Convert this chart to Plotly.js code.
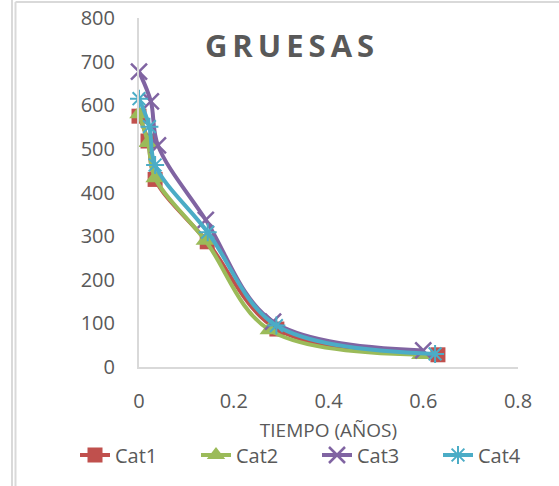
<!DOCTYPE html>
<html>
<head>
<meta charset="utf-8">
<script src="https://cdn.plot.ly/plotly-3.0.1.min.js"></script>
<style>
  html, body { margin: 0; padding: 0; background: #fff; }
  #chart { width: 559px; height: 486px; }
  .gtitle { letter-spacing: 5px; }
</style>
</head>
<body>
<div id="chart"></div>
<script>
// Time in years and measured values for each category
const seriesNames = ['Cat1', 'Cat2', 'Cat3', 'Cat4'];
const cat1X = [0, 0.019, 0.034, 0.144, 0.291, 0.631];
const cat1Y = [575, 518, 430, 287, 87, 28];
const cat2X = [0, 0.019, 0.034, 0.14, 0.275, 0.595];
const cat2Y = [580, 514, 433, 290, 85, 28];
const cat3X = [0, 0.025, 0.04, 0.141, 0.283, 0.6];
const cat3Y = [677, 609, 508, 337, 104, 38];
const cat4X = [0, 0.022, 0.034, 0.145, 0.29, 0.625];
const cat4Y = [615, 551, 463, 309, 95, 30];
const xTicks = [0, 0.2, 0.4, 0.6, 0.8];
const yTicks = [0, 100, 200, 300, 400, 500, 600, 700, 800];

const colors = ['#C0504D', '#9BBB59', '#8064A2', '#4BACC6'];
const gray = '#595959';
const font = 'Open Sans, Liberation Sans, sans-serif';

function series(i, xs, ys, marker) {
  return {
    type: 'scatter',
    mode: 'lines+markers',
    name: seriesNames[i],
    x: xs,
    y: ys,
    line: { color: colors[i], width: 4, shape: 'spline', smoothing: 1 },
    marker: marker,
    cliponaxis: false
  };
}

const traces = [
  series(0, cat1X, cat1Y, { symbol: 'square', size: 15, color: colors[0] }),
  series(1, cat2X, cat2Y, { symbol: 'triangle-up', size: 17, color: colors[1] }),
  series(2, cat3X, cat3Y, { symbol: 'x-thin', size: 16, color: colors[2],
                           line: { color: colors[2], width: 2.5 } }),
  series(3, cat4X, cat4Y, { symbol: 'asterisk', size: 15, color: colors[3],
                           line: { color: colors[3], width: 2 } })
];

const L = 139, R = 41, T = 18, B = 119;
const pw = 559 - L - R, ph = 486 - T - B;
const px = v => (v - L) / pw;          // container x pixel -> paper fraction
const py = v => (486 - B - v) / ph;     // container y pixel -> paper fraction

const layout = {
  width: 559,
  height: 486,
  margin: { l: L, r: R, t: T, b: B },
  paper_bgcolor: '#fff',
  plot_bgcolor: '#fff',
  showlegend: true,
  font: { family: font, color: gray, size: 20 },
  title: {
    text: 'GRUESAS',
    font: { family: font, size: 31, weight: 700, color: gray },
    xref: 'container', yref: 'container',
    x: 292 / 559, xanchor: 'center',
    y: 1 - 46 / 486, yanchor: 'middle'
  },
  xaxis: {
    range: [0, 0.8],
    tickvals: xTicks,
    ticktext: xTicks.map(String),
    showgrid: false,
    zeroline: false,
    showline: true,
    linecolor: '#d9d9d9',
    linewidth: 2,
    ticks: '',
    ticklabelstandoff: 15,
    tickfont: { family: font, size: 20, color: gray },
    title: { text: 'TIEMPO (AÑOS)', font: { family: font, size: 19, color: gray }, standoff: 11 },
    automargin: false,
    fixedrange: true
  },
  yaxis: {
    range: [0, 800],
    tickvals: yTicks,
    showgrid: false,
    zeroline: false,
    showline: true,
    linecolor: '#d9d9d9',
    linewidth: 2,
    ticks: '',
    ticklabelstandoff: 18,
    tickfont: { family: font, size: 20, color: gray },
    automargin: false,
    fixedrange: true
  },
  legend: {
    orientation: 'h',
    x: px(92), xanchor: 'left',
    y: py(455), yanchor: 'middle',
    bgcolor: 'rgba(0,0,0,0)',
    font: { family: font, size: 20, color: gray },
    entrywidth: 76,
    itemwidth: 30,
    traceorder: 'normal'
  },
  shapes: [
    { type: 'line', xref: 'paper', yref: 'paper', x0: px(12), x1: px(12), y0: py(0), y1: py(486),
      line: { color: '#d9d9d9', width: 2 } },
    { type: 'line', xref: 'paper', yref: 'paper', x0: px(15.5), x1: px(15.5), y0: py(2), y1: py(486),
      line: { color: '#d9d9d9', width: 2 } },
    { type: 'line', xref: 'paper', yref: 'paper', x0: px(15.5), x1: px(559), y0: py(2), y1: py(2),
      line: { color: '#d9d9d9', width: 2 } }
  ]
};

Plotly.newPlot('chart', traces, layout, { displayModeBar: false, staticPlot: true });
</script>
</body>
</html>
